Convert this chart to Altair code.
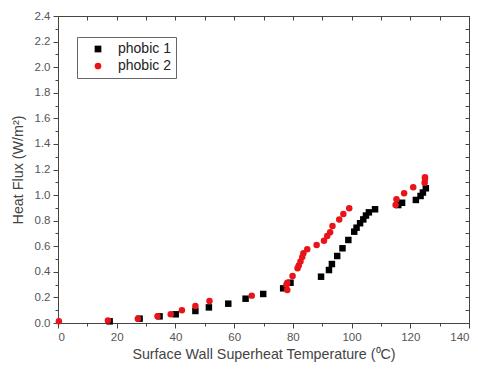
import altair as alt
import pandas as pd

p1_x = [17.6, 27.8, 34.6, 40.1, 46.8, 51.4, 58.0, 63.9, 69.9, 76.7, 79.2, 89.6, 92.3, 93.3,
        95.1, 96.9, 98.9, 100.9, 101.7, 102.9, 104.0, 104.9, 105.9, 108.0, 115.9, 117.2,
        121.9, 123.5, 124.3, 125.3]
p1_y = [0.013, 0.034, 0.052, 0.068, 0.094, 0.122, 0.151, 0.19, 0.227, 0.271, 0.315, 0.362,
        0.414, 0.461, 0.524, 0.584, 0.649, 0.714, 0.745, 0.78, 0.81, 0.84, 0.865, 0.889,
        0.922, 0.94, 0.962, 0.993, 1.02, 1.053]

p2_x = [0.3, 17.0, 27.2, 33.9, 38.4, 42.2, 46.8, 51.6, 66.0, 78.1, 78.1, 77.8, 79.9, 81.6,
        82.0, 82.6, 83.2, 83.6, 84.9, 88.1, 90.6, 91.7, 92.7, 93.5, 95.8, 97.2, 99.2,
        115.0, 115.3, 117.9, 121.0, 124.9, 125.0, 125.0]
p2_y = [0.013, 0.02, 0.034, 0.052, 0.068, 0.099, 0.133, 0.172, 0.214, 0.315, 0.258, 0.3,
        0.367, 0.428, 0.45, 0.48, 0.515, 0.545, 0.576, 0.61, 0.643, 0.68, 0.71, 0.758,
        0.81, 0.852, 0.897, 0.922, 0.967, 1.014, 1.061, 1.097, 1.125, 1.14]

series = ["phobic 1", "phobic 2"]
x_ticks = list(range(0, 141, 10))
y_ticks = [round(i * 0.1, 1) for i in range(0, 25)]

df = pd.concat([
    pd.DataFrame({"x": p1_x, "y": p1_y, "s": series[0]}),
    pd.DataFrame({"x": p2_x, "y": p2_y, "s": series[1]}),
])

FONT = "Liberation Sans"
AX = "#444444"

xscale = alt.Scale(domain=[0, 140], nice=False, zero=False)
yscale = alt.Scale(domain=[0, 2.4], nice=False, zero=False)

x_major = "datum.value % 20 === 0"
y_major = "round(datum.value * 10) % 2 === 0"

common_axis = dict(grid=False, domainColor=AX, tickColor=AX, domainWidth=1, tickWidth=1,
                   labelFont=FONT, labelFontSize=11.5, labelColor="#555555",
                   titleFont=FONT, titleFontSize=14.3, titleColor="#444444",
                   titleFontWeight="normal")

xaxis = alt.Axis(values=x_ticks, title="Surface Wall Superheat Temperature (\u2070C)",
                 labelExpr=f"{x_major} ? datum.label : ''",
                 tickSize={"condition": {"test": x_major, "value": 5}, "value": 3},
                 labelPadding=3, titlePadding=5, **common_axis)
yaxis = alt.Axis(values=y_ticks, title="Heat Flux (W/m\u00b2)", format=".1f",
                 labelExpr=f"{y_major} ? datum.label : ''",
                 tickSize={"condition": {"test": y_major, "value": 5}, "value": 3},
                 labelPadding=3, titlePadding=9, **common_axis)

xaxis_top = alt.Axis(values=x_ticks, orient="top", labels=False, title=None, grid=False,
                     domainColor=AX, tickColor=AX, tickSize={"expr": "-4"})
yaxis_right = alt.Axis(values=y_ticks, orient="right", labels=False, title=None, grid=False,
                       domainColor=AX, tickColor=AX, tickSize={"expr": "-4"})

points = alt.Chart(df).mark_point(filled=True, opacity=1, size=42).encode(
    x=alt.X("x:Q", scale=xscale, axis=xaxis),
    y=alt.Y("y:Q", scale=yscale, axis=yaxis),
    shape=alt.Shape("s:N", scale=alt.Scale(domain=series, range=["square", "circle"]),
                    legend=alt.Legend(title=None, orient="none", legendX=19, legendY=21,
                                      strokeColor="#666666", padding=5, rowPadding=3,
                                      labelFont=FONT, labelFontSize=14, labelColor="#222222",
                                      labelOffset=13, symbolOffset=9, symbolSize=45,
                                      symbolStrokeWidth=0, offset=0)),
    color=alt.Color("s:N", scale=alt.Scale(domain=series, range=["#000000", "#e8141a"])),
)

frame = alt.Chart(df).mark_point(opacity=0).encode(
    x=alt.X("x:Q", scale=xscale, axis=xaxis_top),
    y=alt.Y("y:Q", scale=yscale, axis=yaxis_right),
)

chart = alt.layer(points, frame).resolve_axis(x="independent", y="independent").properties(
    width=411, height=307,
    autosize=alt.AutoSizeParams(type="none"),
    padding={"left": 50, "top": 8, "right": 1, "bottom": 41},
).configure_view(stroke=None).configure(background="white")

chart.save("out.html", embed_options={"renderer": "svg", "actions": False})
